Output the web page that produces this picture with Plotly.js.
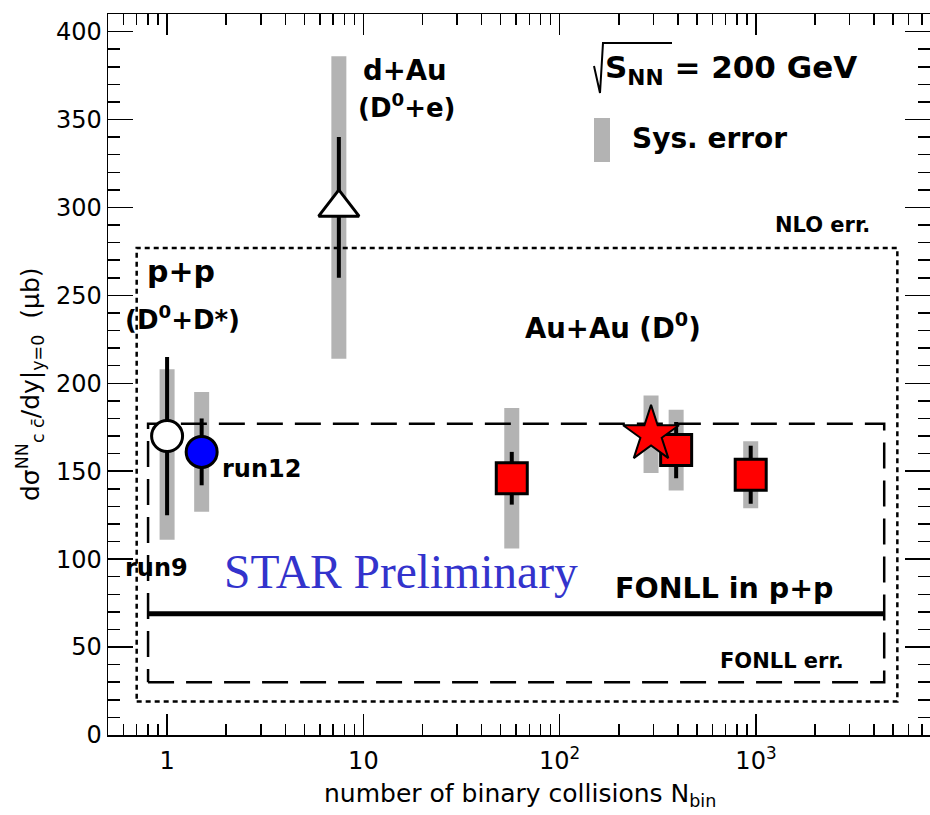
<!DOCTYPE html>
<html>
<head>
<meta charset="utf-8">
<script src="https://cdn.plot.ly/plotly-3.0.1.min.js"></script>
<style>body{margin:0;background:#fff;} #chart{width:930px;height:815px;}</style>
</head>
<body>
<div id="chart"></div>
<script>
// ---- data ----
const run9X = [1.0], run9Y = [170], run9Stat = [45], run9SysUp = [38], run9SysDown = [59];
const run12X = [1.5], run12Y = [161], run12Stat = [19], run12SysUp = [34], run12SysDown = [34];
const dAuX = [7.5], dAuY = [300], dAuStat = [40], dAuSysUp = [86], dAuSysDown = [86];
const auauX = [57, 392, 940], auauY = [146, 162, 148], auauStat = [15, 16, 16.5];
const auauSysUp = [40, 23, 19], auauSysDown = [40, 23, 19];
const starX = [292], starY = [171], starSysUp = [22], starSysDown = [22];
const fonllX = [0.8, 4500], fonllY = [69];
const fonllErrY = [30, 177];
const nloX = [0.7, 5250], nloErrY = [19, 277];
const xTickVals = [1, 10, 100, 1000];
const xTickText = ['1', '10', '10<sup>2</sup>', '10<sup>3</sup>'];
const xMinorVals = [0.6, 0.7, 0.8, 0.9, 2, 3, 4, 5, 6, 7, 8, 9, 20, 30, 40, 50, 60, 70, 80, 90,
  200, 300, 400, 500, 600, 700, 800, 900, 2000, 3000, 4000, 5000, 6000, 7000];

// ---- helpers ----
const L = 108, R = 930, T = 14, B = 735;
const px = v => (v - L) / (R - L);
const py = v => (B - v) / (B - T);
function boxX(xs) { return [xs[0], xs[1], xs[1], xs[0], xs[0]]; }
function boxY(ys) { return [ys[0], ys[0], ys[1], ys[1], ys[0]]; }

const sysX = [].concat(run9X, run12X, dAuX, auauX, starX);
const sysY = [].concat(run9Y, run12Y, dAuY, auauY, starY);
const sysUp = [].concat(run9SysUp, run12SysUp, dAuSysUp, auauSysUp, starSysUp);
const sysDown = [].concat(run9SysDown, run12SysDown, dAuSysDown, auauSysDown, starSysDown);

const statErr = arr => ({type: 'data', array: arr, visible: true, thickness: 4, width: 0, color: 'black'});

const traces = [
  {x: sysX, y: sysY, type: 'scatter', mode: 'markers', marker: {size: 1, opacity: 0},
   error_y: {type: 'data', symmetric: false, array: sysUp, arrayminus: sysDown, visible: true,
             thickness: 15, width: 0, color: '#b3b3b3'}},
  {x: boxX(nloX), y: boxY(nloErrY), type: 'scatter', mode: 'lines',
   line: {color: 'black', width: 2.5, dash: '5px,4px'}},
  {x: boxX(fonllX), y: boxY(fonllErrY), type: 'scatter', mode: 'lines',
   line: {color: 'black', width: 2.5, dash: '26px,12px'}},
  {x: fonllX, y: [fonllY[0], fonllY[0]], type: 'scatter', mode: 'lines',
   line: {color: 'black', width: 5}},
  {x: run9X, y: run9Y, type: 'scatter', mode: 'markers', error_y: statErr(run9Stat),
   marker: {symbol: 'circle', size: 31, color: 'white', line: {color: 'black', width: 3}}},
  {x: run12X, y: run12Y, type: 'scatter', mode: 'markers', error_y: statErr(run12Stat),
   marker: {symbol: 'circle', size: 31, color: '#0000ff', line: {color: 'black', width: 3}}},
  {x: dAuX, y: dAuY, type: 'scatter', mode: 'markers', error_y: statErr(dAuStat),
   marker: {symbol: 'triangle-up', size: 35, color: 'white', line: {color: 'black', width: 3}}},
  {x: auauX, y: auauY, type: 'scatter', mode: 'markers', error_y: statErr(auauStat),
   marker: {symbol: 'square', size: 31, color: '#ff0000', line: {color: 'black', width: 3}}},
  {x: starX, y: starY, type: 'scatter', mode: 'markers',
   marker: {symbol: 'star', size: 42, color: '#ff0000', line: {color: 'black', width: 2}}}
];

const F = 'DejaVu Sans';
function lab(text, x, y, size, xanchor) {
  return {text: '<b>' + text + '</b>', xref: 'paper', yref: 'paper', x: px(x), y: py(y),
    xanchor: xanchor || 'left', yanchor: 'middle', showarrow: false,
    font: {family: F, size: size, color: 'black'}};
}

const annotations = [
  lab('p+p', 145, 272, 30),
  lab('(D<sup>0</sup>+D*)', 123, 318, 26),
  lab('run9', 123, 568, 24),
  lab('run12', 220, 469, 24),
  lab('d+Au', 361, 70, 27.5),
  lab('(D<sup>0</sup>+e)', 356, 106, 26),
  lab('Au+Au (D<sup>0</sup>)', 523, 326, 27.5),
  lab('NLO err.', 872, 225, 21, 'right'),
  lab('FONLL in p+p', 613, 588, 28.5),
  lab('FONLL err.', 846, 661, 21, 'right'),
  lab('S<sub>NN</sub> = 200 GeV', 603, 70, 31),
  lab('Sys. error', 630, 138, 28),
  {text: 'STAR Preliminary', xref: 'paper', yref: 'paper', x: px(222), y: py(572),
   xanchor: 'left', yanchor: 'middle', showarrow: false,
   font: {family: 'Liberation Serif', size: 47.5, color: '#3333cc'}},
  {text: 'dσ<sup>NN</sup><sub>c c̄</sub>/dy|<sub>y=0</sub>  (μb)', xref: 'paper', yref: 'paper',
   x: px(30), y: py(384), xanchor: 'center', yanchor: 'middle', textangle: -90, showarrow: false,
   font: {family: F, size: 25, color: 'black'}},
  {text: 'number of binary collisions N<sub>bin</sub>', xref: 'paper', yref: 'paper',
   x: px(520), y: py(795), xanchor: 'center', yanchor: 'middle', showarrow: false,
   font: {family: F, size: 25, color: 'black'}}
];

const shapes = [
  {type: 'rect', xref: 'paper', yref: 'paper', x0: px(594), x1: px(610), y0: py(162), y1: py(118),
   fillcolor: '#b3b3b3', line: {width: 0}},
  {type: 'path', xref: 'paper', yref: 'paper',
   path: 'M' + px(594) + ',' + py(66) + ' L' + px(600) + ',' + py(93) + ' L' + px(603) + ',' + py(43) +
         ' L' + px(672) + ',' + py(43),
   line: {color: 'black', width: 2}}
];

const axCommon = {showgrid: false, zeroline: false, showline: true, linecolor: 'black', linewidth: 1.5,
  mirror: 'allticks', ticks: 'inside', tickcolor: 'black', tickwidth: 1.5,
  tickfont: {family: F, size: 24, color: 'black'}};

const layout = {
  width: 930, height: 815,
  margin: {l: L, r: 930 - R, t: T, b: 815 - B, pad: 0},
  paper_bgcolor: 'white', plot_bgcolor: 'white',
  showlegend: false,
  xaxis: Object.assign({}, axCommon, {
    type: 'log', range: [Math.log10(0.5), Math.log10(7700)],
    tickmode: 'array', tickvals: xTickVals, ticktext: xTickText, ticklen: 21,
    ticklabelstandoff: 4,
    minor: {tickmode: 'array', tickvals: xMinorVals, ticks: 'inside', ticklen: 11, tickwidth: 1.5, tickcolor: 'black', showgrid: false}
  }),
  yaxis: Object.assign({}, axCommon, {
    range: [0, 410], dtick: 50, tick0: 0, ticklen: 25,
    minor: {dtick: 10, ticks: 'inside', ticklen: 12, tickwidth: 1.5, tickcolor: 'black', showgrid: false}
  }),
  annotations: annotations,
  shapes: shapes
};

Plotly.newPlot('chart', traces, layout, {staticPlot: true});
</script>
</body>
</html>
